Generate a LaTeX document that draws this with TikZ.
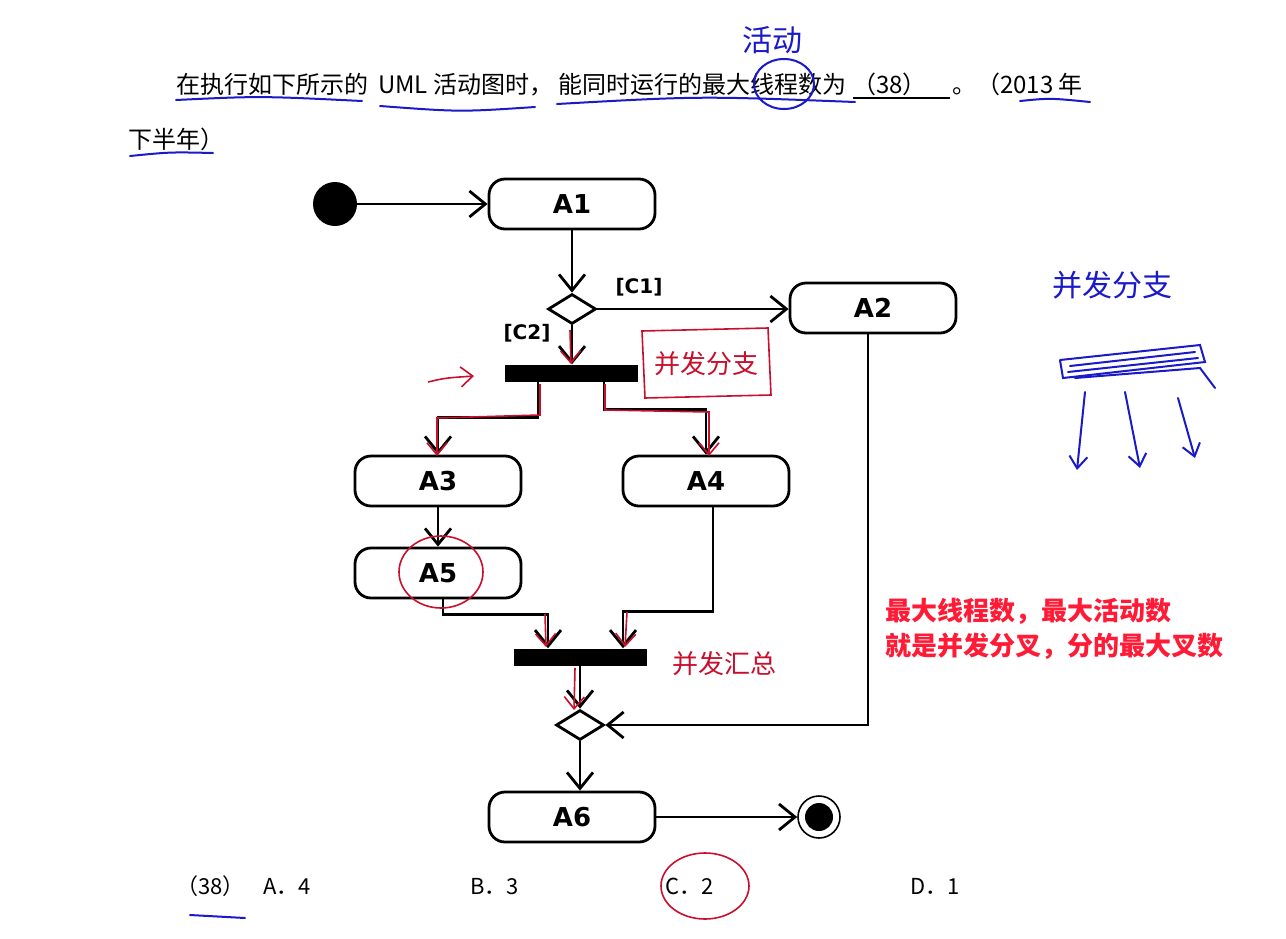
\documentclass[tikz,border=0pt]{standalone}
\usepackage{fontspec}
\setmainfont{Noto Sans CJK SC}
\newfontfamily\cjk{Noto Sans CJK SC}
\newfontfamily\lblfont{DejaVu Sans}
\usetikzlibrary{arrows.meta,shapes.geometric,calc}
\definecolor{redpen}{HTML}{C8102E}
\definecolor{bluepen}{HTML}{1A1AC8}
\definecolor{redtext}{HTML}{FF1A35}
\tikzset{
  act/.style={draw, line width=2.8pt, rounded corners=16pt, minimum width=166pt, minimum height=50pt, inner sep=0pt, font=\lblfont\bfseries\fontsize{26}{26}\selectfont},
  syncbar/.style={fill=black, minimum width=133pt, minimum height=17pt, inner sep=0pt},
  decision/.style={draw, diamond, aspect=1.6, line width=2.8pt, minimum width=48pt, minimum height=30pt, inner sep=0pt},
  flow/.style={line width=2.8pt, -{Straight Barb[length=16pt,width=26pt]}},
  guard/.style={font=\lblfont\bfseries\fontsize{20}{20}\selectfont, inner sep=0pt},
  body/.style={font=\cjk\fontsize{24}{28}\selectfont, anchor=base west, inner sep=0pt},
  redpenline/.style={draw=redpen, line width=1.6pt},
  redflow/.style={redpenline, -{Straight Barb[length=12pt,width=20pt]}},
  bluepenline/.style={draw=bluepen, line width=2pt, line cap=round},
  blueflow/.style={bluepenline, -{Straight Barb[length=12pt,width=18pt]}},
  handred/.style={font=\cjk\fontsize{26}{26}\selectfont, text=redpen, inner sep=0pt},
  handblue/.style={font=\cjk\fontsize{30}{30}\selectfont, text=bluepen, inner sep=0pt},
  notetext/.style={font=\cjk\bfseries\fontsize{26}{26}\selectfont, text=redtext, anchor=west, inner sep=0pt},
  optiontext/.style={font=\cjk\fontsize{22}{26}\selectfont, anchor=base west, inner sep=0pt}
}
\begin{document}
\begin{tikzpicture}[x=1pt,y=-1pt]
\useasboundingbox (0,0) rectangle (1286,938);
\fill[white] (0,0) rectangle (1286,938);

% question text
\node[body] (t1) at (176,93) {在执行如下所示的};
\node[body] (t2) at (378,93) {UML 活动图时，};
\node[body] (t3) at (558,93) {能同时运行的最大线程数为};
\node[body] (t4) at (852,93) {（38）};
\node[body] (t5) at (952,93) {。（2013 年};
\node[body] (t6) at (128,148) {下半年）};
\draw[line width=1.5pt] (853,98) -- (950,98);

% diagram nodes
\node[circle, fill=black, minimum size=44pt, inner sep=0pt] (start) at (335,204) {};
\node[act] (A1) at (572,204) {A1};
\node[decision] (d1) at (572,309) {};
\node[act] (A2) at (873,308) {A2};
\node[syncbar] (fork) at (571,373) {};
\node[act] (A3) at (438,481) {A3};
\node[act] (A4) at (706,481) {A4};
\node[act] (A5) at (438,573) {A5};
\node[syncbar] (join) at (580,657) {};
\node[decision] (d2) at (580,725) {};
\node[act] (A6) at (572,817) {A6};
\node[circle, draw, line width=1.6pt, minimum size=42pt, inner sep=0pt] (finish) at (819,817) {};
\node[circle, fill=black, minimum size=28pt, inner sep=0pt] (finishdot) at (finish) {};
\node[guard] (c1) at (639,287) {[C1]};
\node[guard] (c2) at (527,333) {[C2]};

% connectors
\draw[flow] (start) -- (A1);
\draw[flow] (A1) -- (d1);
\draw[flow] (d1.east) -- (d1.east -| A2.west);
\draw[flow] (d1.south) -- (d1.south |- fork.north);
\draw[flow] ([xshift=-33pt]fork.south) -- ++(0,36) -| (A3.north);
\draw[flow] ([xshift=33pt]fork.south) -- ++(0,28) -| (A4.north);
\draw[flow] (A3) -- (A5);
\draw[flow] ([xshift=5pt]A5.south) -- ++(0,15) -| ([xshift=-32pt]join.north);
\draw[flow] ([xshift=7pt]A4.south) -- ++(0,104) -| ([xshift=43pt]join.north);
\draw[flow] (join.south) -- (join.south |- d2.north);
\draw[flow] ([xshift=-5pt]A2.south) |- (d2.east);
\draw[flow] (d2.south) -- (d2.south |- A6.north);
\draw[flow] (A6) -- (finish);

% red note
\node[notetext] (n1) at (885,611) {最大线程数，最大活动数};
\node[notetext] (n2) at (885,646) {就是并发分叉，分的最大叉数};

% options
\node[optiontext] (o0) at (176,894) {（38）};
\node[optiontext] (oA) at (263,894) {A．4};
\node[optiontext] (oB) at (470,894) {B．3};
\node[optiontext] (oC) at (665,894) {C．2};
\node[optiontext] (oD) at (910,894) {D．1};

% red handwriting
\draw[redflow] (570,330) -- (571,364);
\draw[redflow] (540,384) -- (540,415) -- (437,418) -- (437,456);
\draw[redflow] (605,384) -- (605,410) -- (709,412) -- (709,456);
\draw[redflow] (545,614) -- (546,647);
\draw[redflow] (627,612) -- (625,647);
\draw[redflow] (575,668) -- (574,710);
\draw[redflow] (428,382) .. controls (445,378) .. (474,376);
\draw[redpenline] (642,331) -- (768,328) -- (771,395) -- (645,398) -- cycle;
\node[handred] (h1) at (706,364) {并发分支};
\node[handred] (h2) at (724,664) {并发汇总};
\draw[redpenline] (441,572) ellipse (42 and 36);
\draw[redpenline] (705,886) ellipse (44 and 33);

% blue handwriting
\node[handblue] (h3) at (772,40) {活动};
\node[handblue] (h4) at (1112,285) {并发分支};
\draw[bluepenline] (784,84) ellipse (30 and 25);
\draw[bluepenline] (176,100) .. controls (260,96) .. (362,101);
\draw[bluepenline] (380,106) .. controls (460,112) .. (535,107);
\draw[bluepenline] (557,104) .. controls (700,96) .. (855,102);
\draw[bluepenline] (1020,101) .. controls (1050,98) .. (1090,102);
\draw[bluepenline] (130,156) .. controls (170,152) .. (213,153);
\draw[bluepenline] (190,915) -- (245,918);
\draw[bluepenline] (1060,360) -- (1200,345) -- (1205,362) -- (1063,378) -- (1060,360);
\draw[bluepenline] (1070,366) -- (1195,352);
\draw[bluepenline] (1068,372) -- (1198,358);
\draw[bluepenline] (1075,378) -- (1200,368) -- (1215,388);
\draw[blueflow] (1085,392) -- (1077,470);
\draw[blueflow] (1125,392) -- (1140,468);
\draw[blueflow] (1178,398) -- (1195,458);
\end{tikzpicture}
\end{document}
